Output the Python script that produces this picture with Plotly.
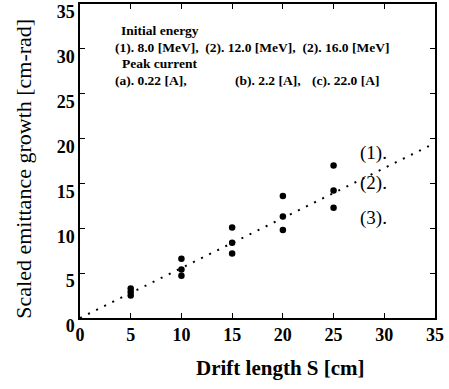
import plotly.graph_objects as go

# Data
drift = [5, 10, 15, 20, 25]
series_1 = [3.3, 6.6, 10.1, 13.6, 17.0]
series_2 = [2.9, 5.4, 8.4, 11.3, 14.2]
series_3 = [2.5, 4.7, 7.2, 9.8, 12.3]
fit_x = [0, 35]
fit_y = [0, 19.5]
ticks = [0, 5, 10, 15, 20, 25, 30, 35]

FONT = "Liberation Serif"

fig = go.Figure()
fig.add_trace(go.Scatter(x=fit_x, y=fit_y, mode="lines",
                         line=dict(color="black", width=2, dash="2px,7px"),
                         showlegend=False))
for s in (series_1, series_2, series_3):
    fig.add_trace(go.Scatter(x=drift, y=s, mode="markers",
                             marker=dict(color="black", size=6.5),
                             showlegend=False))

texts = [
    (3.85, 32.0, "Initial energy"),
    (3.25, 30.2, "(1). 8.0 [MeV],  (2). 12.0 [MeV],  (2). 16.0 [MeV]"),
    (3.95, 28.4, "Peak current"),
    (3.25, 26.5, "(a). 0.22 [A],"),
    (15.1, 26.5, "(b). 2.2 [A],"),
    (22.7, 26.5, "(c). 22.0 [A]"),
]
annotations = []
for x, y, t in texts:
    annotations.append(dict(x=x, y=y, xref="x", yref="y", text="<b>%s</b>" % t,
                            showarrow=False, xanchor="left", yanchor="middle",
                            font=dict(family=FONT, size=13.5, color="black")))
for y, t in [(18.4, "(1)."), (15.0, "(2)."), (11.1, "(3).")]:
    annotations.append(dict(x=28.9, y=y, xref="x", yref="y", text=t,
                            showarrow=False, xanchor="center", yanchor="middle",
                            font=dict(family=FONT, size=19, color="black")))

# axis titles placed as paper annotations
annotations.append(dict(x=-0.16, y=0.476, xref="paper", yref="paper",
                        text="Scaled emittance growth [cm-rad]", textangle=-90,
                        showarrow=False, xanchor="center", yanchor="middle",
                        font=dict(family=FONT, size=22, color="black")))
annotations.append(dict(x=0.565, y=-0.16, xref="paper", yref="paper",
                        text="<b>Drift length S [cm]</b>",
                        showarrow=False, xanchor="center", yanchor="middle",
                        font=dict(family=FONT, size=21, color="black")))

axis_common = dict(range=[0, 35], tickvals=ticks,
                   ticktext=["<b>%d</b>" % v for v in ticks],
                   ticks="inside", ticklen=5, automargin=False,
                   ticklabeloverflow="allow",
                   tickcolor="black", showline=True, linecolor="black",
                   linewidth=1.5, mirror="ticks", showgrid=False, zeroline=False,
                   tickfont=dict(family=FONT, size=18, color="black"))

fig.update_layout(
    width=449, height=389,
    margin=dict(l=80, r=14, t=4, b=71),
    paper_bgcolor="white", plot_bgcolor="white",
    xaxis=dict(**axis_common),
    yaxis=dict(**axis_common, ticklabelshift=8),
    annotations=annotations,
)
fig.write_html("out.html", config={"displayModeBar": False},
               post_script="document.body.style.margin='0px';")
